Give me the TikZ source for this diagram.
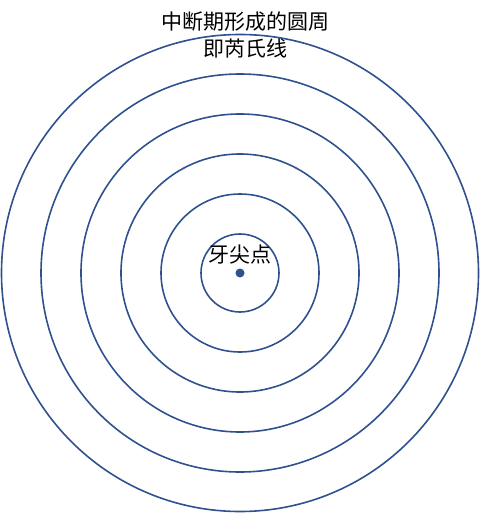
\documentclass[tikz,border=0pt]{standalone}
\usepackage{fontspec}
\newfontfamily\cjk{Noto Sans CJK SC}
\definecolor{ringblue}{RGB}{47,82,143}
\begin{document}
\begin{tikzpicture}[x=1pt,y=-1pt]
      \useasboundingbox (0,0) rectangle (481,514);
      \coordinate(O) at (240,273);
      \draw[ringblue,line width=1.6pt](O) circle (39);
      \draw[ringblue,line width=1.6pt](O) circle (79);
      \draw[ringblue,line width=1.6pt](O) circle (119);
      \draw[ringblue,line width=1.6pt](O) circle (159);
      \draw[ringblue,line width=1.6pt](O) circle (199);
      \draw[ringblue,line width=1.6pt](O) circle (238.5);
      \fill[ringblue](O) circle (4.5);
      \node[font=\cjk\fontsize{21}{27}\selectfont,align=center](title) at (245,35) {中断期形成的圆周\\即芮氏线};
      \node[font=\cjk\fontsize{21}{24}\selectfont](tip) at (240,255) {牙尖点};
    \end{tikzpicture}
\end{document}
